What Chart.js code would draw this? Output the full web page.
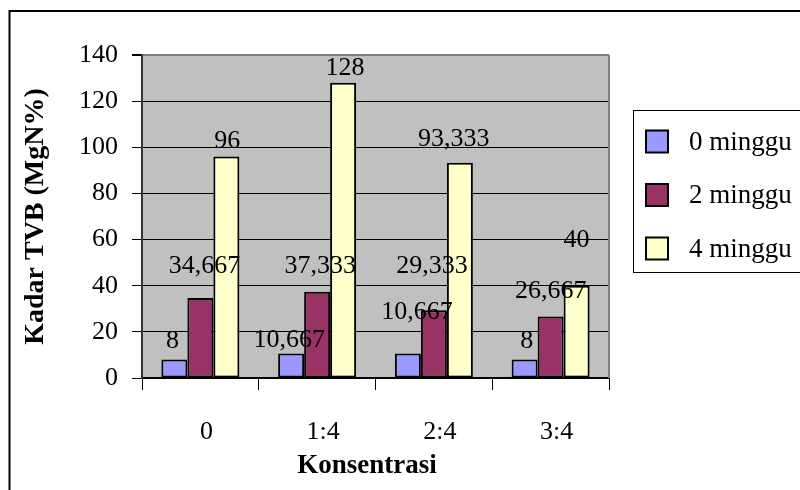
<!DOCTYPE html>
<html>
<head>
<meta charset="utf-8">
<script src="https://cdn.jsdelivr.net/npm/chart.js@4/dist/chart.umd.min.js"></script>
<style>
  html, body { margin: 0; padding: 0; background: #fff; }
  #wrap { width: 800px; height: 490px; }
</style>
</head>
<body>
<div id="wrap"><canvas id="c" width="800" height="490"></canvas></div>
<script>
// Kadar TVB per konsentrasi, selama penyimpanan
const categories = ['0', '1:4', '2:4', '3:4'];
const seriesNames = ['0 minggu', '2 minggu', '4 minggu'];
const minggu0 = [8, 10.667, 10.667, 8];
const minggu2 = [34.667, 37.333, 29.333, 26.667];
const minggu4 = [96, 128, 93.333, 40];
const yTicks = [0, 20, 40, 60, 80, 100, 120, 140];
const xTitle = 'Konsentrasi';
const yTitle = 'Kadar TVB (MgN%)';

const FONT = "'Liberation Serif', 'Times New Roman', serif";
const colors = ['#9999FF', '#993366', '#FFFFCC'];

// per-label nudges (px) from the top-centre of each bar, one row per series
const labelNudge = [
  [[-2, -18], [-2, -13], [9, -41], [2, -18]],
  [[4, -32], [3, -26], [-2, -44], [0, -25]],
  [[1, -15], [2, -15], [-6, -23], [0, -46]]
];

function fmt(v) {
  return Number.isInteger(v) ? String(v) : v.toFixed(3).replace('.', ',');
}

const decor = {
  id: 'decor',
  beforeDraw(chart) {
    const { ctx, chartArea: a } = chart;
    ctx.save();
    ctx.fillStyle = '#fff';
    ctx.fillRect(0, 0, chart.width, chart.height);
    // outer frame
    ctx.strokeStyle = '#000';
    ctx.lineWidth = 2;
    ctx.strokeRect(9.5, 11, 900, 600);
    // plot area
    ctx.fillStyle = '#C0C0C0';
    ctx.fillRect(a.left, a.top, a.right - a.left, a.bottom - a.top);
    ctx.restore();
  },
  afterDatasetsDraw(chart) {
    const { ctx, chartArea: a } = chart;
    ctx.save();
    // right edge of plot area
    ctx.strokeStyle = '#808080';
    ctx.lineWidth = 2;
    ctx.beginPath();
    ctx.moveTo(a.right, a.top);
    ctx.lineTo(a.right, a.bottom);
    ctx.stroke();
    // value labels
    ctx.fillStyle = '#000';
    ctx.font = '26px ' + FONT;
    ctx.textAlign = 'center';
    ctx.textBaseline = 'middle';
    chart.data.datasets.forEach((ds, si) => {
      const meta = chart.getDatasetMeta(si);
      meta.data.forEach((bar, i) => {
        const n = labelNudge[si][i];
        ctx.fillText(fmt(ds.data[i]), bar.x + n[0], bar.y + n[1]);
      });
    });
    ctx.restore();
  },
  afterDraw(chart) {
    const { ctx } = chart;
    ctx.save();
    // category axis title
    ctx.fillStyle = '#000';
    ctx.font = 'bold 27px ' + FONT;
    ctx.textAlign = 'center';
    ctx.textBaseline = 'middle';
    ctx.fillText(xTitle, 367, 466);
    // legend
    ctx.strokeStyle = '#000';
    ctx.lineWidth = 1;
    ctx.strokeRect(633.5, 110.5, 300, 162);
    ctx.font = '27px ' + FONT;
    ctx.textAlign = 'left';
    chart.data.datasets.forEach((ds, i) => {
      const cy = 141.5 + i * 53.5;
      ctx.fillStyle = ds.backgroundColor;
      ctx.fillRect(646, cy - 11, 22, 22);
      ctx.lineWidth = 2;
      ctx.strokeStyle = '#000';
      ctx.strokeRect(646, cy - 11, 22, 22);
      ctx.fillStyle = '#000';
      ctx.fillText(ds.label, 689, cy + 1);
    });
    ctx.restore();
  }
};

const seriesValues = [minggu0, minggu2, minggu4];

new Chart(document.getElementById('c'), {
  type: 'bar',
  data: {
    labels: categories,
    datasets: seriesNames.map((name, i) => ({
      label: name,
      data: seriesValues[i],
      backgroundColor: colors[i],
      borderColor: '#000',
      borderWidth: 2,
      borderSkipped: false,
      categoryPercentage: 0.668,
      barPercentage: 1
    }))
  },
  options: {
    responsive: false,
    animation: false,
    events: [],
    layout: { padding: { left: 0, top: 55, right: 191, bottom: 0 } },
    plugins: { legend: { display: false }, tooltip: { enabled: false } },
    scales: {
      x: {
        afterFit(scale) { scale.height = 112; },
        grid: {
          offset: true,
          drawOnChartArea: false,
          tickLength: 12,
          tickColor: '#000',
          lineWidth: 1
        },
        border: { color: '#000', width: 2 },
        ticks: {
          color: '#000',
          font: { family: FONT, size: 26 },
          padding: 27,
          labelOffset: 6,
          maxRotation: 0
        }
      },
      y: {
        min: 0,
        max: 140,
        afterFit(scale) { scale.width = 142; },
        afterBuildTicks(scale) { scale.ticks = yTicks.map(v => ({ value: v })); },
        grid: {
          color: ctx => (ctx.tick && ctx.tick.value === 140) ? '#808080' : '#000',
          lineWidth: ctx => (ctx.tick && ctx.tick.value === 140) ? 2 : 1,
          tickLength: 10,
          tickColor: '#000'
        },
        border: { color: '#333', width: 2 },
        ticks: {
          color: '#000',
          font: { family: FONT, size: 26 },
          padding: 14
        },
        title: {
          display: true,
          text: yTitle,
          color: '#000',
          font: { family: FONT, size: 28, weight: 'bold' },
          padding: { top: 19, bottom: 0 }
        }
      }
    }
  },
  plugins: [decor]
});
</script>
</body>
</html>
